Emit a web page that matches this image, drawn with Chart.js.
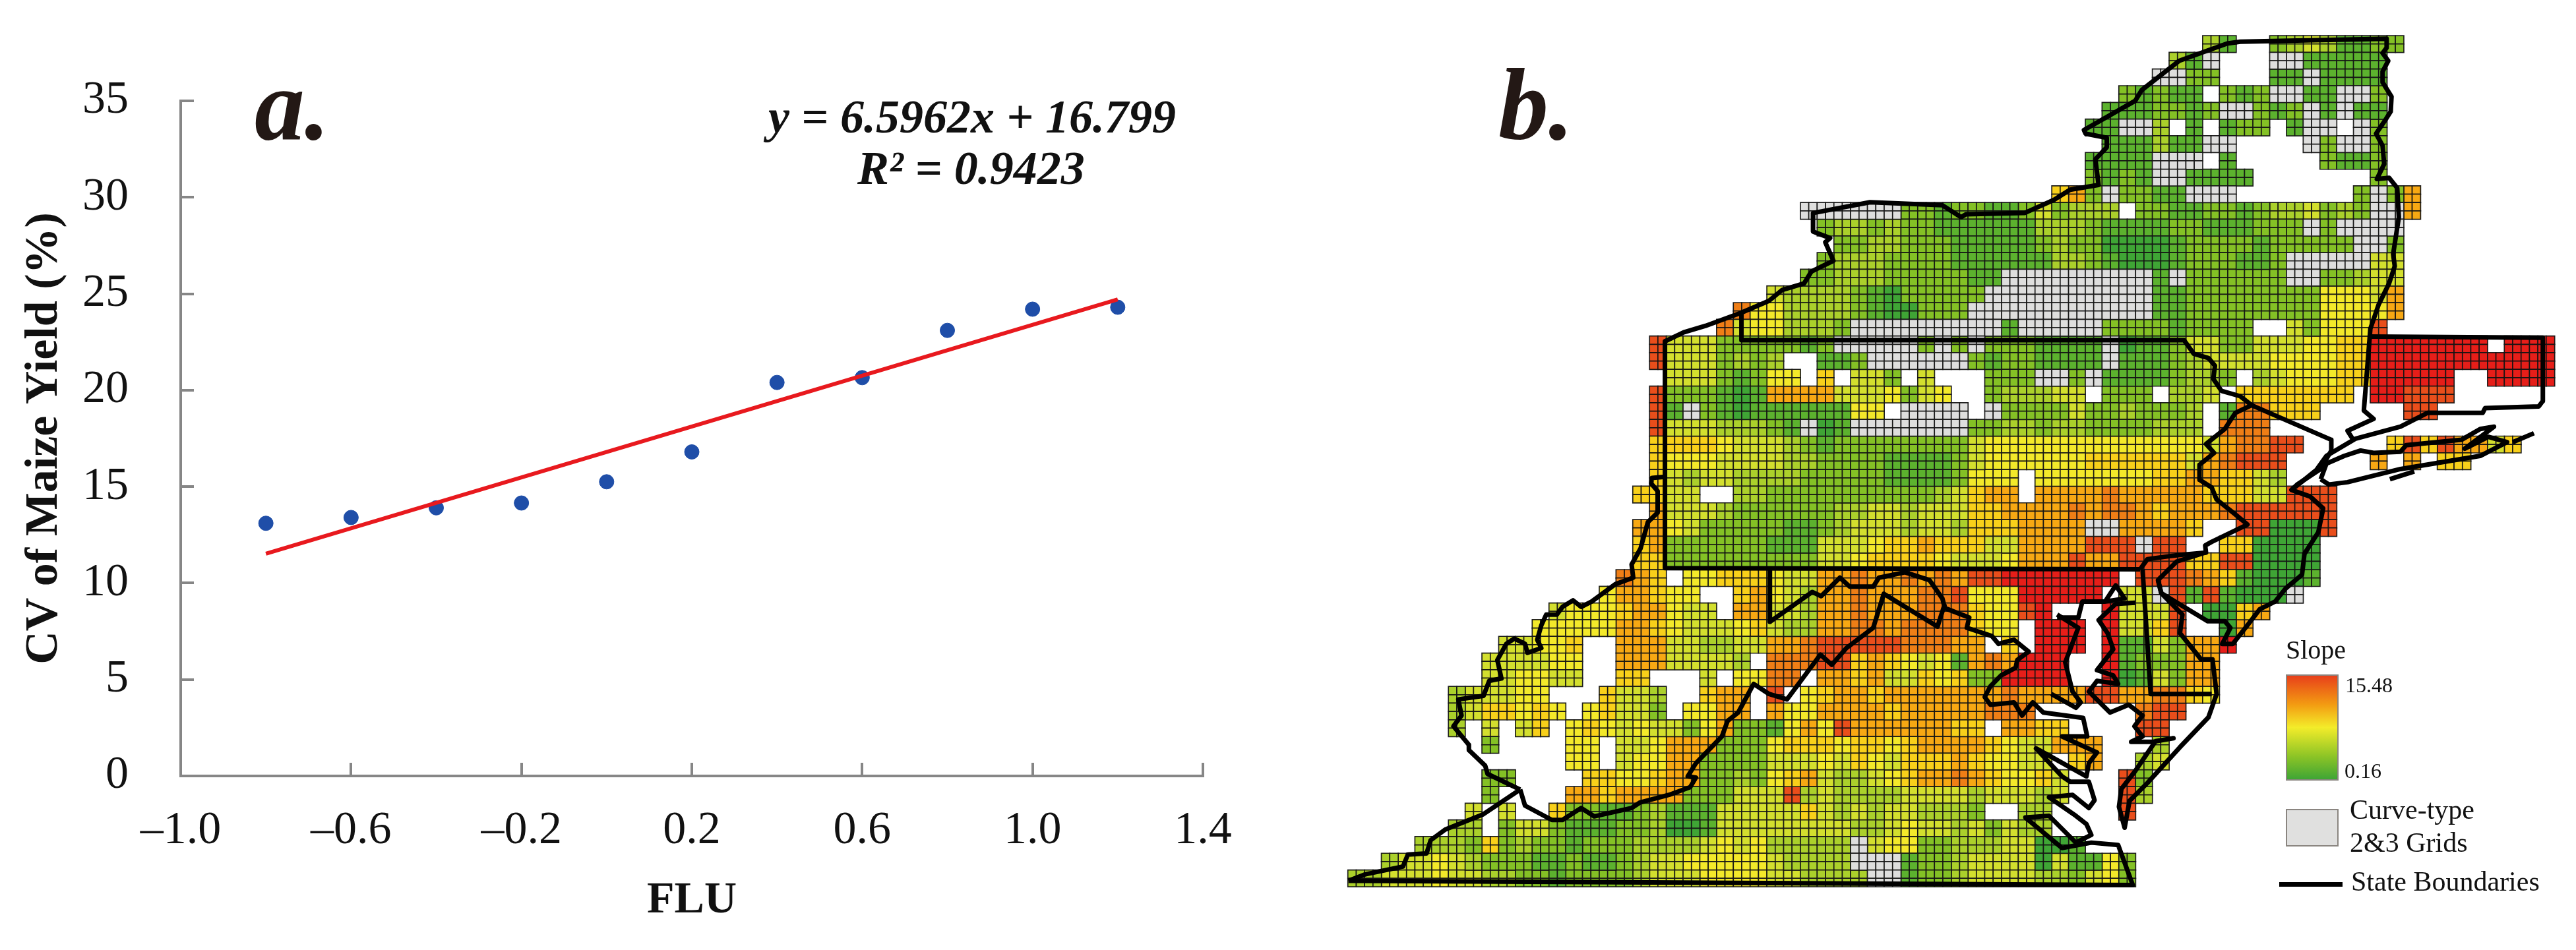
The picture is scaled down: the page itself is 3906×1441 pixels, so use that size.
<!DOCTYPE html>
<html>
<head>
<meta charset="utf-8">
<title>FLU and maize yield variability</title>
<script src="https://cdn.jsdelivr.net/npm/chart.js@4/dist/chart.umd.js"></script>
<style>
body { margin: 0; background: #fff; }
#page { position: relative; width: 3906px; height: 1441px; overflow: hidden; font-family: "Liberation Serif", serif; color: #111; }
canvas { position: absolute; top: 0; }
.txt { position: absolute; white-space: nowrap; line-height: 1; }
.big { font-weight: bold; font-style: italic; font-size: 155px; transform-origin: left top; transform: scaleX(0.98); color: #231815; }
.eq { font-weight: bold; font-style: italic; font-size: 72px; }
.box { position: absolute; left: 3466px; width: 80px; box-sizing: border-box; border: 2px solid #8a8580; }
</style>
</head>
<body>
<div id="page">
  <canvas id="scatter_chart" width="1950" height="1441" style="left:0"></canvas>
  <canvas id="map_chart" width="1956" height="1441" style="left:1950px"></canvas>
  <div class="txt big" style="left:386px;top:82px">a.</div>
  <div class="txt big" style="left:2272px;top:82px">b.</div>
  <div class="txt eq" style="left:1165px;top:141px">y = 6.5962x + 16.799</div>
  <div class="txt eq" style="left:1300px;top:219px">R² = 0.9423</div>
  <div class="txt" style="left:3466px;top:966px;font-size:40px">Slope</div>
  <div class="box" style="top:1023px;height:161px;background:linear-gradient(#e8401a,#f39c12 28%,#f3ec2a 50%,#8cc426 78%,#3fa535)"></div>
  <div class="txt" style="left:3556px;top:1023px;font-size:32px">15.48</div>
  <div class="txt" style="left:3555px;top:1153px;font-size:32px">0.16</div>
  <div class="box" style="top:1227px;height:57px;background:#e0e0df"></div>
  <div class="txt" style="left:3563px;top:1207px;font-size:42px">Curve-type</div>
  <div class="txt" style="left:3563px;top:1257px;font-size:42px">2&amp;3 Grids</div>
  <div style="position:absolute;left:3456px;top:1338px;width:96px;height:7px;background:#000"></div>
  <div class="txt" style="left:3565px;top:1316px;font-size:42px">State Boundaries</div>
</div>
<script>
// panel a
const fluValues = [-0.8, -0.6, -0.4, -0.2, 0, 0.2, 0.4, 0.6, 0.8, 1.0, 1.2];
const cvValues = [13.1, 13.4, 13.9, 14.15, 15.25, 16.8, 20.4, 20.65, 23.1, 24.2, 24.3];
const fitFlu = [-0.8, 1.2];
const fitCv = [11.52, 24.71];
const xTickLabels = ['–1.0', '–0.6', '–0.2', '0.2', '0.6', '1.0', '1.4'];

// panel b, slope classes in blocks of 2x2 grid cells
// each row is a list of [first block, classes], "." is a gap
const slopeClasses = ['n', 'D', 'G', 'L', 'C', 'K', 'Y', 'A', 'O', 'P', 'R', 'X'];
const classColors = ['#dededd', '#3fa535', '#5cb22e', '#84c125', '#abd02b', '#d3df2e', '#f3e92a', '#f8d01a', '#f7a813', '#ef7e16', '#e94e1b', '#e61e19'];
const slopeRows = [
  [[51, "CG"], [55, "LCKCGGLL"]],
  [[49, "CGn"], [55, "nnGGGGG"]],
  [[48, "nnLL"], [55, "GGnGGGG"]],
  [[46, "LGLGG.LGLnnGGnnL"]],
  [[45, "GGGLLGLnnLGLnGnGG"]],
  [[44, "GGnnC.G.GLL.Gnn.nL"]],
  [[45, "GGGCGGnn"], [57, "nLnnL"]],
  [[44, "GGGGnnn.G"], [58, "LGGL"]],
  [[44, "LGLGnnGGGG"], [61, "L"]],
  [[42, "AOLnLLGGnnn"], [60, "LnLO"]],
  [[27, "nnnnnnLLGLLGGLKLCCC.LLGGLLGLCCKLCLnnO"]],
  [[28, "LCCLCLLGGGGGGCCCLGGGGLLGGGLLLnLnnnn"]],
  [[29, "LLCCLLLGGGGGLCLLDDDDGLLLLGLLLLLnnL"]],
  [[28, "LCCCLLLLGGGGGGCCLGDDDGLLLGGLnnnnnKK"]],
  [[27, "LLCCCLLLLLGGnnnnnnnnnGnLLLLLLnnLLCKK"]],
  [[25, "KCCCCLGDLLLLLnnnnnnnnnnGGLLLLLLLLYYYKO"]],
  [[23, "PYYCCCCLGDDLLLnnnnnnnnnnnGGLLLLLLLLYYYYO"]],
  [[22, "PKYYCCCLnnnnnnnnnGnnnnnLLLLGLLLL..KLYYYR"]],
  [[18, "RKKKLLLLLGLnnnnnLnLnLLLGGGGnDGGLKKLLKKKYYAAXXXXXXX.XXX"]],
  [[18, "RKKKLCLC..GGLnnnnnnLGLLGGGGnGGGLCKKKKYYYYAAXXXXXXXXXXX"]],
  [[19, "KKKLGLYY.A.KKL.K...LLLnnLnGGGGLCCL.CKYYYAAXXXXX..XXXX"]],
  [[18, "RLLLGDGOOOOKKKYLKY..LCCCKK.LLL.CCK.AAAAAAA.XXRRR"]],
  [[18, "RGnLGDGGGGGGYY.nnnn.nLLLLKLLCLLLC.GPPAAA"], [63, "RR"]],
  [[18, "RKKKCCCLGnDGnnnnnnnLLCCLCCLLLLCCC.PPP"]],
  [[18, "AAAAYKKKCLGLLLLLLLLKYYYYYYYYYYYYYKOPPRR"], [62, "ARAROOKA"]],
  [[18, "AYYYKKKKCCLLLLGGGGLKYYYYYYAAAAAAKOPRRR"], [61, "O.O.AA"]],
  [[18, "AKCKKCCCCLLLLLGGGGLYYY.YYYYYYYAAOOAAKC"]],
  [[17, "AAKK..CCLLLLLLLLLLCKAOO.OOOOPOOOOOAAAKKRRR"]],
  [[18, "OKKKCLLLLLLCCKKCKKKAAOOOOPOPPOAOOOPRRRRRR"]],
  [[17, "OOYKLLLLLGGLCKKKCKKCAAAOOOOnnOOOOA..RRDDDR"]],
  [[17, "AOLLLLLLGGGKKKYAAOAAAKKOOOORRRnRR..AADDDD"]],
  [[17, "AALLLLLLLLLKKYAAAAYKKKYOOOROORRRRAARRDDDD"]],
  [[16, "POA.YYAAAYKKOOPOOPOPORRXXXXXXX.RRRPOAGDDDG"]],
  [[15, "YOOAYY..AOYKCOOPOOOPPRYYYXXXXX.KKnRGRGDDDn"]],
  [[12, "KYYYAOOYKK.OOKKCOOPOOOPPPAYYRX...XKKKR.DDAO"]],
  [[11, "YYYYYOOAYKKKYAKCCOOPPOPPPPAYY.XXX.XKKAR..DO"]],
  [[9, "KKYYA..OOOKKCCKKOOPRRRRRPPPOO.A.XXX.XGGKLOOX"]],
  [[8, "KKKKYY..OOOKKKKC.PPPRRAOAYKYGOPOXXX..XGLLLOO"]],
  [[8, "KKYYKK..AA...K.YYPP.OOAOKKAYALLXXXX..XDGKLOO"]],
  [[6, "CKKKYY...AKKC..AOO.R.YAOOAOOOOOOOPOOOORROOPPAY"]],
  [[6, "CKAAYAY.YAKKL.YYOO.OYYOOOOAOOOOOPPP"], [47, "PRR"]],
  [[6, "C.K.KA.YAYKYKKLYOLLGYOYROOOOOOAA.OOAA"], [47, "RR"]],
  [[8, "L"], [13, "YY.KKYOOOLLLYAAAYAAYAOOOOAYKKOOO"], [48, "C"]],
  [[13, "YY.KYYOOLLLLKKKYKAYKAAAOAYYKK.AO"], [47, "CK"]],
  [[8, "LL"], [14, "AAYYAOOLLCLYAOKCCKYAOOPOAYYAK"], [46, "RL"]],
  [[8, "L"], [13, "OOAOOOOLLLKKKRCKCCCCKKKKCKKKCK"], [46, "RC"]],
  [[7, "K.K"], [12, "ALLGGLCGGGKKKKKAKCKCKKCCCL..CC"], [46, "R"]],
  [[6, "CC.LKKLGGGLLCDDGKKKKKKKKCCKYKKCKLKCC"]],
  [[4, "CCCLALCLLGLLLCCCCKYKYCCCCCnKYYLLCCCKKDDG"]],
  [[2, "CKKYKCLLLGGLGGLCKKYYYYYKCCCCnnnGLLCKKKKDKGGYL"]],
  [[0, "CCKKKYKKCCLLGLLLLCKKKYYYYKKCCCCnnGLLCKKKKCCLKYL"]]
];

// state boundaries in map units
const northShore = [[457,560],[480,545],[507,534],[551,512],[585,492],[601,474],[628,463],[637,443],[664,425],[654,394],[660,387],[639,376],[639,345],[709,327],[798,332],[821,352],[827,347],[899,345],[935,323],[955,306],[990,298],[986,255],[1000,235],[1000,219],[974,212],[972,206],[1035,157],[1043,139],[1089,90],[1148,61],[1164,58],[1344,53],[1344,68],[1339,77],[1346,90],[1339,108],[1339,126],[1350,150],[1349,175],[1342,190],[1331,212],[1339,232],[1341,263],[1332,288],[1347,286],[1357,303],[1359,352],[1352,414],[1354,434],[1347,463],[1334,499],[1324,539],[1316,676],[1328,690],[1296,710],[1303,725]];
const connecticut = [[1324,552],[1536,554],[1536,660],[1531,669],[1465,672],[1462,680],[1394,680],[1361,703],[1306,723],[1270,752],[1258,775],[1240,795],[1228,808]];
const longIsland = [[1263,791],[1270,765],[1292,752],[1312,743],[1328,747],[1361,745],[1368,734],[1436,725],[1459,707],[1476,703],[1440,740],[1469,720],[1492,729],[1459,752],[1361,774],[1296,796],[1273,800],[1263,791]];
const montauk = [[1525,714],[1499,729]];
const fireIsland = [[1348,791],[1378,778]];
const paEast = [[551,512],[551,558],[1095,558],[1107,581],[1125,588],[1133,601],[1131,623],[1141,643],[1164,652],[1178,667],[1158,680],[1145,707],[1122,732],[1132,747],[1114,767],[1114,792],[1129,805],[1135,825],[1157,849],[1173,867],[1129,896],[1121,902],[1122,914],[1090,918],[1077,920],[1050,925],[1041,942]];
const paWestSouth = [[457,560],[457,940],[1041,942]];
const njCoast = [[1178,667],[1276,725],[1276,743],[1263,774],[1234,800],[1227,809],[1250,820],[1266,840],[1260,880],[1243,916],[1240,951],[1220,974],[1207,996],[1188,1009],[1178,1027],[1155,1067],[1142,1067],[1152,1040],[1145,1029],[1124,1029],[1067,982],[1063,960],[1086,929],[1121,914]];
const delawareLine = [[1044,942],[1054,1151],[1129,1151]];
const delmarva = [[1063,960],[1067,982],[1093,1018],[1090,1049],[1103,1071],[1116,1093],[1130,1093],[1135,1151],[1125,1190],[1090,1240],[1050,1300],[1028,1330],[1022,1375],[1015,1340],[1018,1310],[1035,1280],[1060,1230],[1082,1225],[1057,1231],[1030,1231],[1044,1222],[1034,1205],[1044,1187],[1027,1169],[1004,1182],[978,1147],[988,1129],[1014,1134],[1008,1120],[988,1111],[1008,1076],[1001,1049],[990,1027],[1011,1000],[1035,998]];
const ohioRiver = [[457,787],[441,789],[440,798],[448,811],[448,847],[436,863],[427,907],[416,934],[418,956],[396,967],[367,996],[354,1005],[344,994],[331,1005],[324,1018],[311,1018],[305,1036],[300,1060],[305,1074],[288,1082],[285,1067],[272,1058],[262,1067],[251,1094],[256,1125],[241,1129],[234,1154],[203,1160],[207,1187],[197,1205],[216,1236],[216,1245],[236,1271],[239,1285],[279,1311]];
const wvVirginia = [[279,1311],[285,1338],[318,1362],[331,1362],[354,1342],[370,1356],[416,1342],[426,1333],[462,1320],[488,1307],[495,1291],[485,1289],[495,1267],[527,1222],[534,1196],[547,1182],[566,1134],[585,1151],[607,1160],[648,1085],[662,1102],[680,1074],[713,1040],[726,983],[792,1038],[801,1000]];
const kentuckyLine = [[68,1464],[89,1453],[135,1440],[141,1420],[164,1418],[169,1396],[187,1378],[233,1353],[279,1311]];
const potomac = [[586,942],[586,1030],[612,1005],[638,980],[649,987],[672,956],[684,971],[713,971],[720,956],[752,947],[782,960],[798,991],[801,1007],[831,1023],[828,1040],[859,1054],[867,1067],[886,1060],[904,1080],[890,1094],[888,1107],[870,1120],[857,1138],[850,1156],[857,1169],[886,1165],[896,1187],[909,1165],[922,1182],[971,1191],[976,1222],[945,1222],[988,1249],[978,1267],[975,1289],[913,1242],[945,1289],[955,1298],[978,1298],[985,1329],[978,1342],[958,1320],[929,1324],[962,1355],[975,1369],[981,1387],[962,1400],[929,1355],[900,1358],[945,1409],[981,1400],[1014,1404],[1032,1471],[68,1464]];
const bayWestShore = [[939,1018],[965,1040],[949,1098],[958,1147],[968,1165],[962,1174],[932,1151]];
const bayHead = [[939,1023],[965,1023],[970,996],[998,996],[1011,969],[1022,991],[998,996]];
const boundaryLines = [northShore, connecticut, longIsland, montauk, fireIsland, paEast, paWestSouth, njCoast, delawareLine, delmarva, ohioRiver, wvVirginia, kentuckyLine, potomac, bayWestShore, bayHead];

const serif = 'Liberation Serif';
const axisGrey = '#868686';

const scatterConfig = {
    type: 'scatter',
    data: {
        datasets: [{
            data: fitFlu.map((x, i) => ({ x: x, y: fitCv[i] })),
            showLine: true,
            borderColor: '#e8191e',
            borderWidth: 6,
            pointRadius: 0,
            order: 0
        }, {
            data: fluValues.map((x, i) => ({ x: x, y: cvValues[i] })),
            backgroundColor: '#1f4ea8',
            borderColor: '#1f4ea8',
            pointRadius: 11,
            order: 1
        }]
    },
    options: {
        responsive: false,
        animation: false,
        layout: { padding: { top: 153, right: 126 } },
        plugins: { legend: { display: false }, tooltip: { enabled: false } },
        scales: {
            x: {
                min: -1,
                max: 1.4,
                afterFit: scale => { scale.height = 264; },
                border: { color: axisGrey, width: 4 },
                grid: { drawOnChartArea: false, color: axisGrey, lineWidth: 4, tickLength: -20 },
                ticks: {
                    stepSize: 0.4,
                    maxRotation: 0,
                    autoSkip: false,
                    padding: 62,
                    color: '#111',
                    font: { family: serif, size: 70 },
                    callback: (value, index) => xTickLabels[index]
                },
                title: {
                    display: true,
                    text: 'FLU',
                    color: '#111',
                    font: { family: serif, size: 68, weight: 'bold' },
                    padding: { top: 0, bottom: 34 }
                }
            },
            y: {
                min: 0,
                max: 35,
                afterFit: scale => { scale.width = 274; },
                border: { color: axisGrey, width: 4 },
                grid: { drawOnChartArea: false, color: axisGrey, lineWidth: 4, tickLength: -20 },
                ticks: {
                    stepSize: 5,
                    padding: 99,
                    color: '#111',
                    font: { family: serif, size: 70 }
                },
                title: {
                    display: true,
                    text: 'CV of Maize Yield (%)',
                    color: '#111',
                    font: { family: serif, size: 70, weight: 'bold' },
                    padding: { top: 26, bottom: 0 }
                }
            }
        }
    }
};

// grid placement in map units
const cellOriginX = 67.3;
const cellOriginY = 47.9;
const cellW = 10.3;
const cellH = 13.98;

function cellsForClass(cls) {
    const cells = [];
    slopeRows.forEach((row, j) => {
        row.forEach(([start, chars]) => {
            [...chars].forEach((c, k) => {
                if (c !== cls) return;
                for (let sy = 0; sy < 2; sy++) {
                    for (let sx = 0; sx < 2; sx++) {
                        cells.push({
                            x: cellOriginX + cellW * (2 * (start + k) + sx + 0.5),
                            y: cellOriginY + cellH * (2 * j + sy + 0.5)
                        });
                    }
                }
            });
        });
    });
    return cells;
}

const mapDatasets = boundaryLines.map(line => ({
    data: line.map(p => ({ x: p[0], y: p[1] })),
    showLine: true,
    borderColor: '#000',
    borderWidth: 7,
    borderJoinStyle: 'round',
    pointRadius: 0,
    order: 0
})).concat(slopeClasses.map((cls, i) => ({
    data: cellsForClass(cls),
    pointStyle: 'rect',
    pointRadius: 9.09,
    backgroundColor: classColors[i],
    borderColor: 'rgba(20,20,20,0.95)',
    borderWidth: 1.7,
    order: 1
})));

const mapConfig = {
    type: 'scatter',
    data: { datasets: mapDatasets },
    options: {
        responsive: false,
        animation: false,
        plugins: { legend: { display: false }, tooltip: { enabled: false } },
        scales: {
            x: { display: false, min: 0, max: 1568 },
            y: { display: false, min: 0, max: 1568, reverse: true }
        }
    }
};

new Chart(document.getElementById('scatter_chart'), scatterConfig);
new Chart(document.getElementById('map_chart'), mapConfig);
</script>
</body>
</html>
